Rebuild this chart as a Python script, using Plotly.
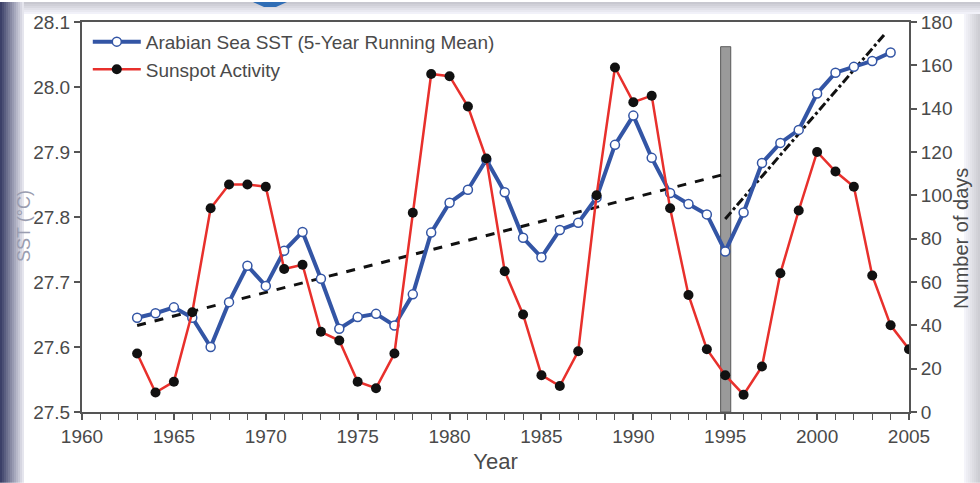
import plotly.graph_objects as go

years = list(range(1963, 2006))

sst_years = list(range(1963, 2005))
sst = [27.645, 27.652, 27.661, 27.645, 27.600, 27.669, 27.725, 27.694, 27.748, 27.777,
       27.705, 27.628, 27.646, 27.651, 27.633, 27.681, 27.776, 27.822, 27.842, 27.888,
       27.838, 27.768, 27.738, 27.780, 27.791, 27.830, 27.911, 27.956, 27.891, 27.837,
       27.820, 27.804, 27.747, 27.807, 27.883, 27.914, 27.934, 27.990, 28.022, 28.031,
       28.040, 28.053]

sunspot = [27, 9, 14, 46, 94, 105, 105, 104, 66, 68,
           37, 33, 14, 11, 27, 92, 156, 155, 141, 117,
           65, 45, 17, 12, 28, 100, 159, 143, 146, 94,
           54, 29, 17, 8, 21, 64, 93, 120, 111, 104,
           63, 40, 29]

trend1_x = [1963, 1995]
trend1_y = [27.633, 27.866]
trend2_x = [1995, 2003.7]
trend2_y = [27.797, 28.082]

bar_x = [1994.75, 1995.3]
bar_top = 28.062

W, H = 980, 483
L, R, T, B = 82, 909, 20, 412

def px(x):
    return (x - L) / (R - L)

def py(y):
    return (B - y) / (B - T)

FONT = "Liberation Sans, Arial, sans-serif"
TXT = "#4a4a4a"
AX = "#555555"

fig = go.Figure()

fig.add_trace(go.Scatter(x=trend1_x, y=trend1_y, mode="lines", showlegend=False,
                         line=dict(color="#111111", width=3, dash="dash"), hoverinfo="skip"))
fig.add_trace(go.Scatter(x=trend2_x, y=trend2_y, mode="lines", showlegend=False,
                         line=dict(color="#111111", width=3, dash="dashdot"), hoverinfo="skip"))

fig.add_trace(go.Scatter(x=sst_years, y=sst, mode="lines+markers",
                         name="Arabian Sea SST (5-Year Running Mean)",
                         line=dict(color="#3355a5", width=4),
                         marker=dict(symbol="circle", size=9, color="white",
                                     line=dict(color="#3355a5", width=1.5))))
fig.add_trace(go.Scatter(x=years, y=sunspot, mode="lines+markers", yaxis="y2",
                         name="Sunspot Activity",
                         line=dict(color="#e8302c", width=2.5),
                         marker=dict(symbol="circle", size=10, color="#111111")))

shapes = []
# decorative frame
n = 12
for i in range(n):
    x0 = i * 2
    t = i / n
    r = int(60 + (245 - 60) * t)
    g = int(64 + (245 - 64) * t)
    b = int(104 + (250 - 104) * t)
    shapes.append(dict(type="rect", xref="paper", yref="paper",
                       x0=px(x0), x1=px(x0 + 2), y0=py(H), y1=py(0),
                       fillcolor=f"rgb({r},{g},{b})", line=dict(width=0), layer="below"))
for i in range(6):
    y0 = i * 2
    t = i / 6
    c = int(200 + (250 - 200) * t)
    shapes.append(dict(type="rect", xref="paper", yref="paper",
                       x0=px(24), x1=px(W), y0=py(y0 + 2), y1=py(y0),
                       fillcolor=f"rgb({c},{c},{min(255, c + 8)})", line=dict(width=0), layer="below"))
for i in range(8):
    x0 = W - 2 * (i + 1)
    t = i / 8
    c = int(205 + (250 - 205) * t)
    shapes.append(dict(type="rect", xref="paper", yref="paper",
                       x0=px(x0), x1=px(x0 + 2), y0=py(H), y1=py(12),
                       fillcolor=f"rgb({c},{c},{min(255, c + 6)})", line=dict(width=0), layer="below"))
# blue tab at top
shapes.append(dict(type="path", xref="paper", yref="paper",
                   path=f"M {px(253)},{py(0)} L {px(287)},{py(0)} L {px(276)},{py(5)} L {px(264)},{py(5)} Z",
                   fillcolor="#2f6db5", line=dict(width=0)))
# gray vertical bar at 1995
shapes.append(dict(type="rect", xref="x", yref="y", x0=bar_x[0], x1=bar_x[1],
                   y0=27.5, y1=bar_top, fillcolor="#9a9a9a",
                   line=dict(color="#5a5a5a", width=1), layer="below"))

annotations = [
    dict(text="SST (°C)", xref="paper", yref="paper", x=px(12), y=py(225),
         textangle=-90, showarrow=False, font=dict(family=FONT, size=18, color="#9a9db0")),
    dict(text="Number of days", xref="paper", yref="paper", x=px(974), y=py(238),
         textangle=-90, showarrow=False, font=dict(family=FONT, size=20, color=TXT)),
]

fig.update_layout(
    width=W, height=H,
    margin=dict(l=L, r=W - R, t=T, b=H - B),
    paper_bgcolor="white", plot_bgcolor="white",
    font=dict(family=FONT, size=19, color=TXT),
    showlegend=True,
    legend=dict(x=0.007, y=0.998, xanchor="left", yanchor="top",
                bgcolor="rgba(0,0,0,0)", font=dict(size=19, color=TXT),
                itemwidth=48, tracegroupgap=0),
    xaxis=dict(range=[1960, 2005], dtick=5, tick0=1960, ticks="outside", ticklen=6,
               tickwidth=1.5, tickcolor=AX, showline=True, linecolor=AX, linewidth=2,
               mirror=True, showgrid=False, zeroline=False,
               minor=dict(dtick=1, ticks="outside", ticklen=6, tickwidth=1.2, tickcolor=AX),
               title=dict(text="Year", font=dict(size=22, color=TXT), standoff=8),
               tickfont=dict(size=19, color=TXT)),
    yaxis=dict(range=[27.5, 28.1], dtick=0.1, tickformat=".1f", ticks="outside", ticklen=6,
               tickwidth=1.5, tickcolor=AX, showline=True, linecolor=AX, linewidth=2,
               showgrid=False, zeroline=False, tickfont=dict(size=19, color=TXT)),
    yaxis2=dict(range=[0, 180], dtick=20, overlaying="y", side="right", ticks="outside",
                ticklen=6, tickwidth=1.5, tickcolor=AX, showline=True, linecolor=AX,
                linewidth=2, showgrid=False, zeroline=False, tickfont=dict(size=19, color=TXT)),
    shapes=shapes,
    annotations=annotations,
)

fig.write_html("out.html")
